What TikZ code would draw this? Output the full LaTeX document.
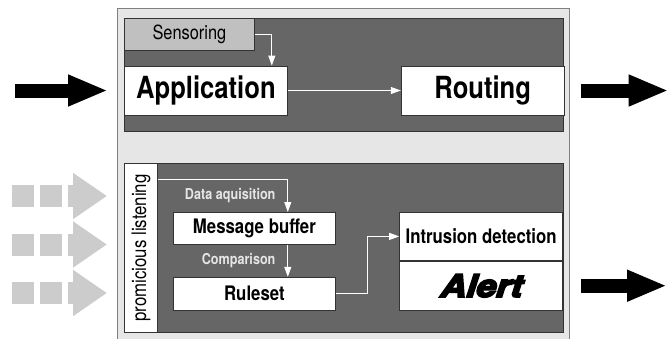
\documentclass[tikz,border=0pt]{standalone}
\usepackage{fontspec}
\setmainfont[FakeStretch=0.84]{TeX Gyre Heros}
\newfontfamily\alertfont[FakeBold=6,FakeSlant=0.08,FakeStretch=1.15]{texgyreheros-bolditalic.otf}
\usetikzlibrary{arrows.meta, positioning, calc}
\definecolor{nslight}{HTML}{E6E6E6}
\definecolor{nsdark}{HTML}{666666}
\definecolor{nssens}{HTML}{C0C0C0}
\definecolor{nsghost}{HTML}{CCCCCC}
\definecolor{nsedge}{HTML}{333333}

\begin{document}
\begin{tikzpicture}[x=1pt, y=-1pt, line width=.8pt,
          panel/.style={draw=nsedge, fill=nsdark, minimum width=439pt, anchor=north west, inner sep=0pt},
          box/.style={draw=nsedge, fill=white, inner sep=0pt},
          big/.style={font=\fontsize{30.5}{31}\selectfont\bfseries},
          mid/.style={font=\fontsize{20}{20}\selectfont\bfseries},
          lbl/.style={text=nslight, inner sep=0pt, font=\fontsize{15}{15}\selectfont\bfseries},
          link/.style={draw=white, -{Triangle[length=10pt,width=7pt]}},
          flow/.style={line width=14pt, -{Triangle[length=40pt,width=29pt]}},
          ghost/.style={nsghost, line width=22pt, dash pattern=on 22pt off 6pt, -{Triangle[length=34pt,width=44pt]}}]
          \useasboundingbox (0,0) rectangle (668,338);
          \node[draw=gray, fill=nslight, minimum width=452pt, minimum height=345pt, anchor=north west, inner sep=0pt] (frame) at (117,8) {};
          \node[panel, minimum height=113pt] (upper) at (124,18) {};
          \node[panel, minimum height=169pt] (lower) at (124,163) {};
          \node[box, fill=nssens, minimum width=130pt, minimum height=32pt, anchor=north west, font=\fontsize{19.5}{20}\selectfont] (sens) at (upper.north west) {Sensoring};
          \node[box, big, minimum width=163pt, minimum height=49pt, anchor=west] (app) at (124,90.5) {Application};
          \node[box, big, minimum width=163pt, minimum height=49pt, right=113pt of app] (rout) {Routing};
          \node[box, minimum width=33pt, minimum height=169pt, anchor=north west, font=\fontsize{20}{20}\selectfont] (lis) at (lower.north west) {\rotatebox{90}{promicious listening}};
          \node[box, mid, minimum width=162pt, minimum height=32pt, anchor=north west] (msg) at (173,212) {Message buffer};
          \node[box, mid, minimum width=162pt, minimum height=33pt, below=32pt of msg] (rule) {Ruleset};
          \node[box, mid, minimum width=163pt, minimum height=48pt, anchor=north east] (intr) at (563,212) {Intrusion detection};
          \node[box, minimum width=163pt, minimum height=49pt, below=0pt of intr, font=\fontsize{31}{31}\selectfont\alertfont] (alert) {Alert};
          \draw[link] (sens.east) -| ([xshift=-16pt]app.north east);
          \draw[link] (app) -- (rout);
          \draw[link] ([yshift=-16pt]lis.north east) -| node[lbl, pos=.75, left=12pt] {Data aquisition} ([xshift=-48pt]msg.north east);
          \draw[link] ([xshift=-48pt]msg.south east) -- node[lbl, left=12pt] {Comparison} ([xshift=-48pt]rule.north east);
          \draw[link] (rule.east) -- ++(32,0) |- (intr.west);
          \draw[flow] ([xshift=-109pt]app.west) -- ([xshift=-16pt]app.west);
          \draw[flow] ([xshift=16pt]rout.east) -- ([xshift=104pt]rout.east);
          \draw[flow] ([xshift=18pt]alert.east) -- ([xshift=104pt]alert.east);
          \foreach \y in {196,244.5,293} \draw[ghost] (12,\y) -- (107,\y);
        \end{tikzpicture}
\end{document}
